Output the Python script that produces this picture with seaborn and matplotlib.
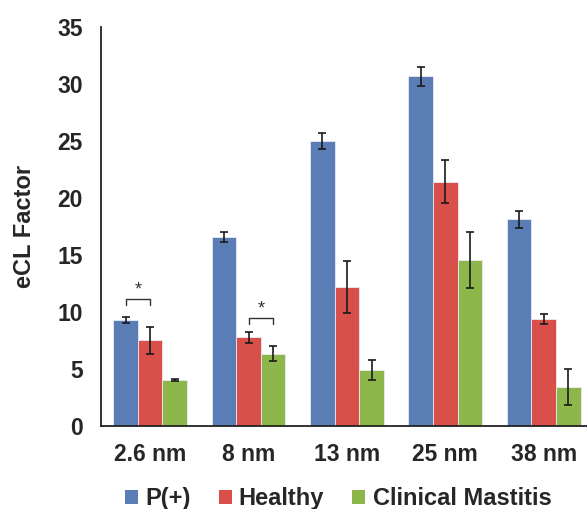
import numpy as np
import pandas as pd
import matplotlib
matplotlib.use("Agg")
import matplotlib.pyplot as plt
import seaborn as sns
from matplotlib.patches import Patch

# ── Data ──────────────────────────────────────────
sizes = ["2.6 nm", "8 nm", "13 nm", "25 nm", "38 nm"]
groups = ["P(+)", "Healthy", "Clinical Mastitis"]

p_pos = [9.27, 16.6, 25.0, 30.67, 18.13]
healthy = [7.52, 7.78, 12.17, 21.43, 9.39]
mastitis = [4.04, 6.34, 4.91, 14.59, 3.42]

p_pos_err = [0.25, 0.44, 0.67, 0.82, 0.73]
healthy_err = [1.17, 0.50, 2.28, 1.87, 0.46]
mastitis_err = [0.05, 0.66, 0.89, 2.47, 1.61]

# significance brackets: (category, left group, right group, bracket top)
sig_pairs = [("2.6 nm", "P(+)", "Healthy", 11.17),
             ("8 nm", "Healthy", "Clinical Mastitis", 9.5)]

colors = ["#5A7DB5", "#D9504A", "#8DB74B"]

df = pd.DataFrame({
    "size": sizes * 3,
    "group": np.repeat(groups, len(sizes)),
    "value": p_pos + healthy + mastitis,
    "err": p_pos_err + healthy_err + mastitis_err,
})

# ── Plot ──────────────────────────────────────────
sns.set_style("white")
plt.rcParams["font.family"] = ["Liberation Sans", "DejaVu Sans"]
plt.rcParams["font.weight"] = "bold"

fig = plt.figure(figsize=(5.87, 5.09), dpi=100)
ax = fig.add_axes([0.172, 0.163, 0.838, 0.784])

sns.barplot(data=df, x="size", y="value", hue="group", order=sizes,
            hue_order=groups, palette=colors, width=0.75, saturation=1,
            errorbar=None, edgecolor="#e8ecf4", linewidth=0.6,
            legend=False, ax=ax)

# error bars placed on the bar centres seaborn drew
bar_x = {}
bar_containers = list(ax.containers)
for gi, cont in enumerate(bar_containers):
    sub = df[df["group"] == groups[gi]]
    xs = [b.get_x() + b.get_width() / 2 for b in cont]
    for s, x in zip(sizes, xs):
        bar_x[(s, groups[gi])] = x
    ax.errorbar(xs, sub["value"], yerr=sub["err"], fmt="none",
                ecolor="#1a1a1a", elinewidth=1.2, capsize=2.8,
                capthick=1.2, zorder=5)

for s, g1, g2, top in sig_pairs:
    x1, x2 = bar_x[(s, g1)], bar_x[(s, g2)]
    ax.plot([x1, x1, x2, x2], [top - 0.55, top, top, top - 0.55],
            color="#333333", lw=1.0)
    ax.text((x1 + x2) / 2, top + 0.05, "*", ha="center", va="bottom",
            fontsize=13, fontweight="normal", color="#333333")

ax.set_ylim(0, 35)
ax.set_xlim(-0.5, len(sizes) - 0.5)
ax.set_yticks(range(0, 36, 5))
ax.set_xticks(np.arange(-0.5, len(sizes), 1.0))
ax.set_xticklabels([])
ax.set_xticks(range(len(sizes)), minor=True)
ax.set_xticklabels(sizes, minor=True)
ax.tick_params(axis="x", which="major", direction="out", length=6,
               width=1.3, color="#222222")
ax.tick_params(axis="x", which="minor", length=0, pad=12, labelsize=16.5)
ax.tick_params(axis="y", direction="out", length=6, width=1.3,
               color="#222222", labelsize=16.5, pad=7)
for lbl in ax.get_xticklabels(minor=True) + ax.get_yticklabels():
    lbl.set_fontweight("bold")

sns.despine(ax=ax)
for sp in ["left", "bottom"]:
    ax.spines[sp].set_linewidth(1.3)
    ax.spines[sp].set_color("#222222")

ax.set_xlabel("")
ax.set_ylabel("eCL Factor", fontsize=17, fontweight="bold", labelpad=15)

handles = [Patch(facecolor=c, edgecolor="none") for c in colors]
fig.legend(handles, groups, loc="center", bbox_to_anchor=(0.576, 0.02),
           ncol=3, frameon=False, handlelength=0.55, handleheight=0.5,
           handletextpad=0.3, columnspacing=1.2,
           prop={"size": 17, "weight": "bold"})

fig.savefig("out.png", dpi=100)
